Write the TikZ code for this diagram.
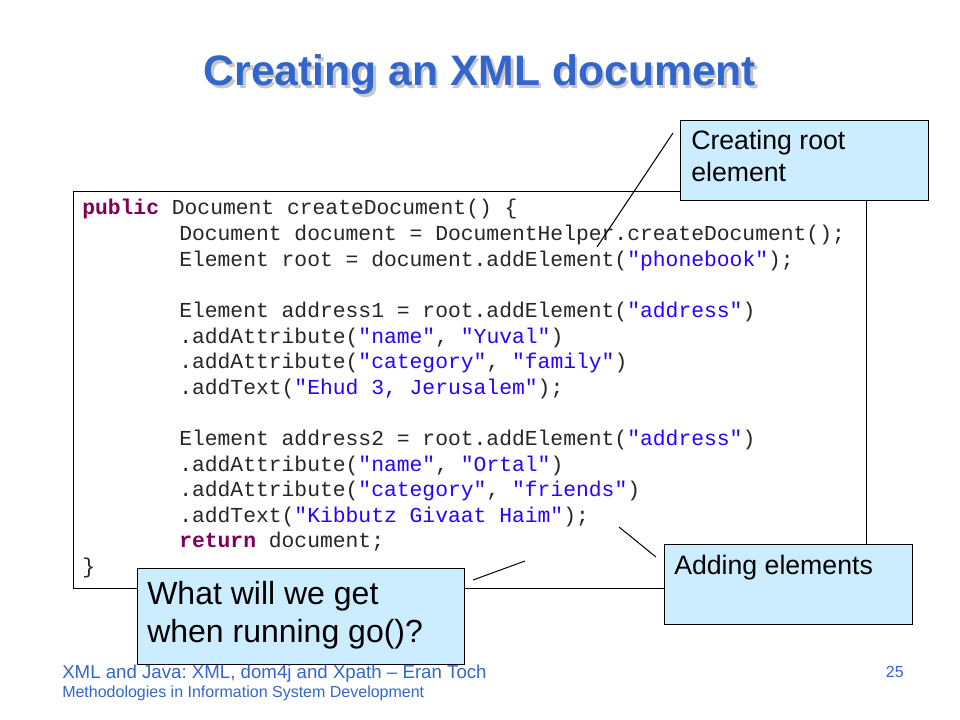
\documentclass[tikz,border=0pt]{standalone}
\usepackage{fontspec}
\setmainfont{Liberation Sans}
\setsansfont{Liberation Sans}
\setmonofont{Liberation Mono}
\definecolor{titleblue}{RGB}{51,102,204}
\definecolor{footblue}{RGB}{51,102,204}
\definecolor{kwcol}{RGB}{127,0,85}
\definecolor{strcol}{RGB}{42,0,255}
\definecolor{calloutfill}{RGB}{204,236,255}
\newcommand{\kw}[1]{\textcolor{kwcol}{\textbf{#1}}}
\newcommand{\str}[1]{\textcolor{strcol}{#1}}
\begin{document}
\frenchspacing
\begin{tikzpicture}[x=0.75pt,y=-0.75pt,
  codeline/.style={anchor=base west,inner sep=0pt,text=black!85,font=\ttfamily\fontsize{16}{19.2}\selectfont},
  calloutbox/.style={draw=black,fill=calloutfill,line width=0.8pt,anchor=north west,inner sep=0pt},
  callouttext/.style={anchor=base west,inner sep=0pt,font=\fontsize{20}{24}\selectfont},
  bigtext/.style={anchor=base west,inner sep=0pt,font=\fontsize{24}{28.8}\selectfont},
  pointer/.style={draw=black,line width=0.75pt}]
\useasboundingbox (0,0) rectangle (960,720);
\fill[white] (0,0) rectangle (960,720);
% title
\node[anchor=base,inner sep=0pt,text=black!22,font=\bfseries\fontsize{32}{38}\selectfont] (titleshadow) at (482.5,88.5) {Creating an XML document};
\node[anchor=base,inner sep=0pt,text=titleblue,font=\bfseries\fontsize{32}{38}\selectfont] (title) at (480,86) {Creating an XML document};
% code box
\node[draw=black,fill=white,line width=0.75pt,anchor=north west,inner sep=0pt,minimum width=594.75pt,minimum height=297pt] (codebox) at (72.5,191.5) {};
\node[codeline] (l0) at (82,215) {\kw{public} Document createDocument() \{};
\node[codeline] (l1) at (179,240.6) {Document document = DocumentHelper.createDocument();};
\node[codeline] (l2) at (179,266.2) {Element root = document.addElement(\str{"phonebook"});};
\node[codeline] (l4) at (179,317.4) {Element address1 = root.addElement(\str{"address"})};
\node[codeline] (l5) at (179,343) {.addAttribute(\str{"name"}, \str{"Yuval"})};
\node[codeline] (l6) at (179,368.6) {.addAttribute(\str{"category"}, \str{"family"})};
\node[codeline] (l7) at (179,394.2) {.addText(\str{"Ehud 3, Jerusalem"});};
\node[codeline] (l9) at (179,445.4) {Element address2 = root.addElement(\str{"address"})};
\node[codeline] (l10) at (179,471) {.addAttribute(\str{"name"}, \str{"Ortal"})};
\node[codeline] (l11) at (179,496.6) {.addAttribute(\str{"category"}, \str{"friends"})};
\node[codeline] (l12) at (179,522.2) {.addText(\str{"Kibbutz Givaat Haim"});};
\node[codeline] (l13) at (179,547.8) {\kw{return} document;};
\node[codeline] (l14) at (82,573.4) {\}};
% pointer lines
\coordinate (p1a) at (673,133);
\coordinate (p1b) at (597,247);
\coordinate (p2a) at (619,527);
\coordinate (p2b) at (656,557);
\coordinate (p3a) at (473,580);
\coordinate (p3b) at (525,561);
\draw[pointer] (p1a) -- (p1b);
\draw[pointer] (p2a) -- (p2b);
\draw[pointer] (p3a) -- (p3b);
% callouts
\node[calloutbox,minimum width=186pt,minimum height=60pt] (c1) at (680,120) {};
\node[callouttext] (c1t1) at (691,150) {Creating root};
\node[callouttext] (c1t2) at (691,182) {element};
\node[calloutbox,minimum width=186pt,minimum height=60pt] (c2) at (664,544) {};
\node[callouttext] (c2t) at (674,574) {Adding elements};
\node[calloutbox,minimum width=245.25pt,minimum height=72pt] (c3) at (137,568) {};
\node[bigtext] (c3t1) at (147,604) {What will we get};
\node[bigtext] (c3t2) at (147,642) {when running go()?};
% footer
\node[anchor=base west,inner sep=0pt,text=footblue,font=\fontsize{14}{16}\selectfont] (foot1) at (62,678) {XML and Java: XML, dom4j and Xpath – Eran Toch};
\node[anchor=base west,inner sep=0pt,text=footblue,font=\fontsize{12}{14}\selectfont] (foot2) at (62,697) {Methodologies in Information System Development};
\node[anchor=base east,inner sep=0pt,text=footblue,font=\fontsize{12}{14}\selectfont] (pagenum) at (904,677) {25};
\end{tikzpicture}
\end{document}
